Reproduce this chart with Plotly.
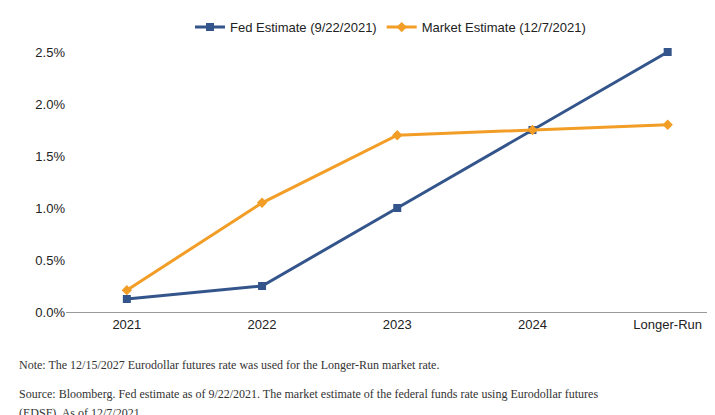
import plotly.graph_objects as go

categories = ["2021", "2022", "2023", "2024", "Longer-Run"]
fed_estimate = [0.125, 0.25, 1.0, 1.75, 2.5]
market_estimate = [0.21, 1.05, 1.70, 1.75, 1.80]

fig = go.Figure()
fig.add_trace(go.Scatter(
    x=categories, y=fed_estimate, name="Fed Estimate (9/22/2021)",
    mode="lines+markers", line=dict(color="#34558b", width=3),
    marker=dict(symbol="square", size=8, color="#34558b"), cliponaxis=False,
))
fig.add_trace(go.Scatter(
    x=categories, y=market_estimate, name="Market Estimate (12/7/2021)",
    mode="lines+markers", line=dict(color="#f29d26", width=3),
    marker=dict(symbol="diamond", size=8, color="#f29d26"), cliponaxis=False,
))

fig.update_layout(
    width=715, height=415,
    margin=dict(l=58, r=8, t=44, b=111, autoexpand=False),
    paper_bgcolor="white", plot_bgcolor="white",
    font=dict(family="Liberation Sans, Arial", size=13, color="#222"),
    showlegend=True,
    legend=dict(orientation="h", x=0.5, xanchor="center", y=0.99, yanchor="top",
                yref="container", font=dict(size=13)),
    xaxis=dict(showgrid=False, showline=True, linecolor="#999",
               ticks="", range=[-0.45, 4.35]),
    yaxis=dict(range=[0, 2.5], tickvals=[0, 0.5, 1.0, 1.5, 2.0, 2.5],
               ticktext=["0.0%", "0.5%", "1.0%", "1.5%", "2.0%", "2.5%"],
               showgrid=False, zeroline=False, showline=False),
)

notes = [
    (-0.17, "Note: The 12/15/2027 Eurodollar futures rate was used for the Longer-Run market rate."),
    (-0.28, "Source: Bloomberg. Fed estimate as of 9/22/2021. The market estimate of the federal funds rate using Eurodollar futures"),
    (-0.352, "(EDSF). As of 12/7/2021."),
]
for ypos, text in notes:
    fig.add_annotation(text=text, xref="paper", yref="paper", x=-0.075, y=ypos,
                       xanchor="left", yanchor="top", showarrow=False,
                       font=dict(family="Liberation Serif, Times New Roman", size=12, color="#333"))

fig.write_html("out.html")
